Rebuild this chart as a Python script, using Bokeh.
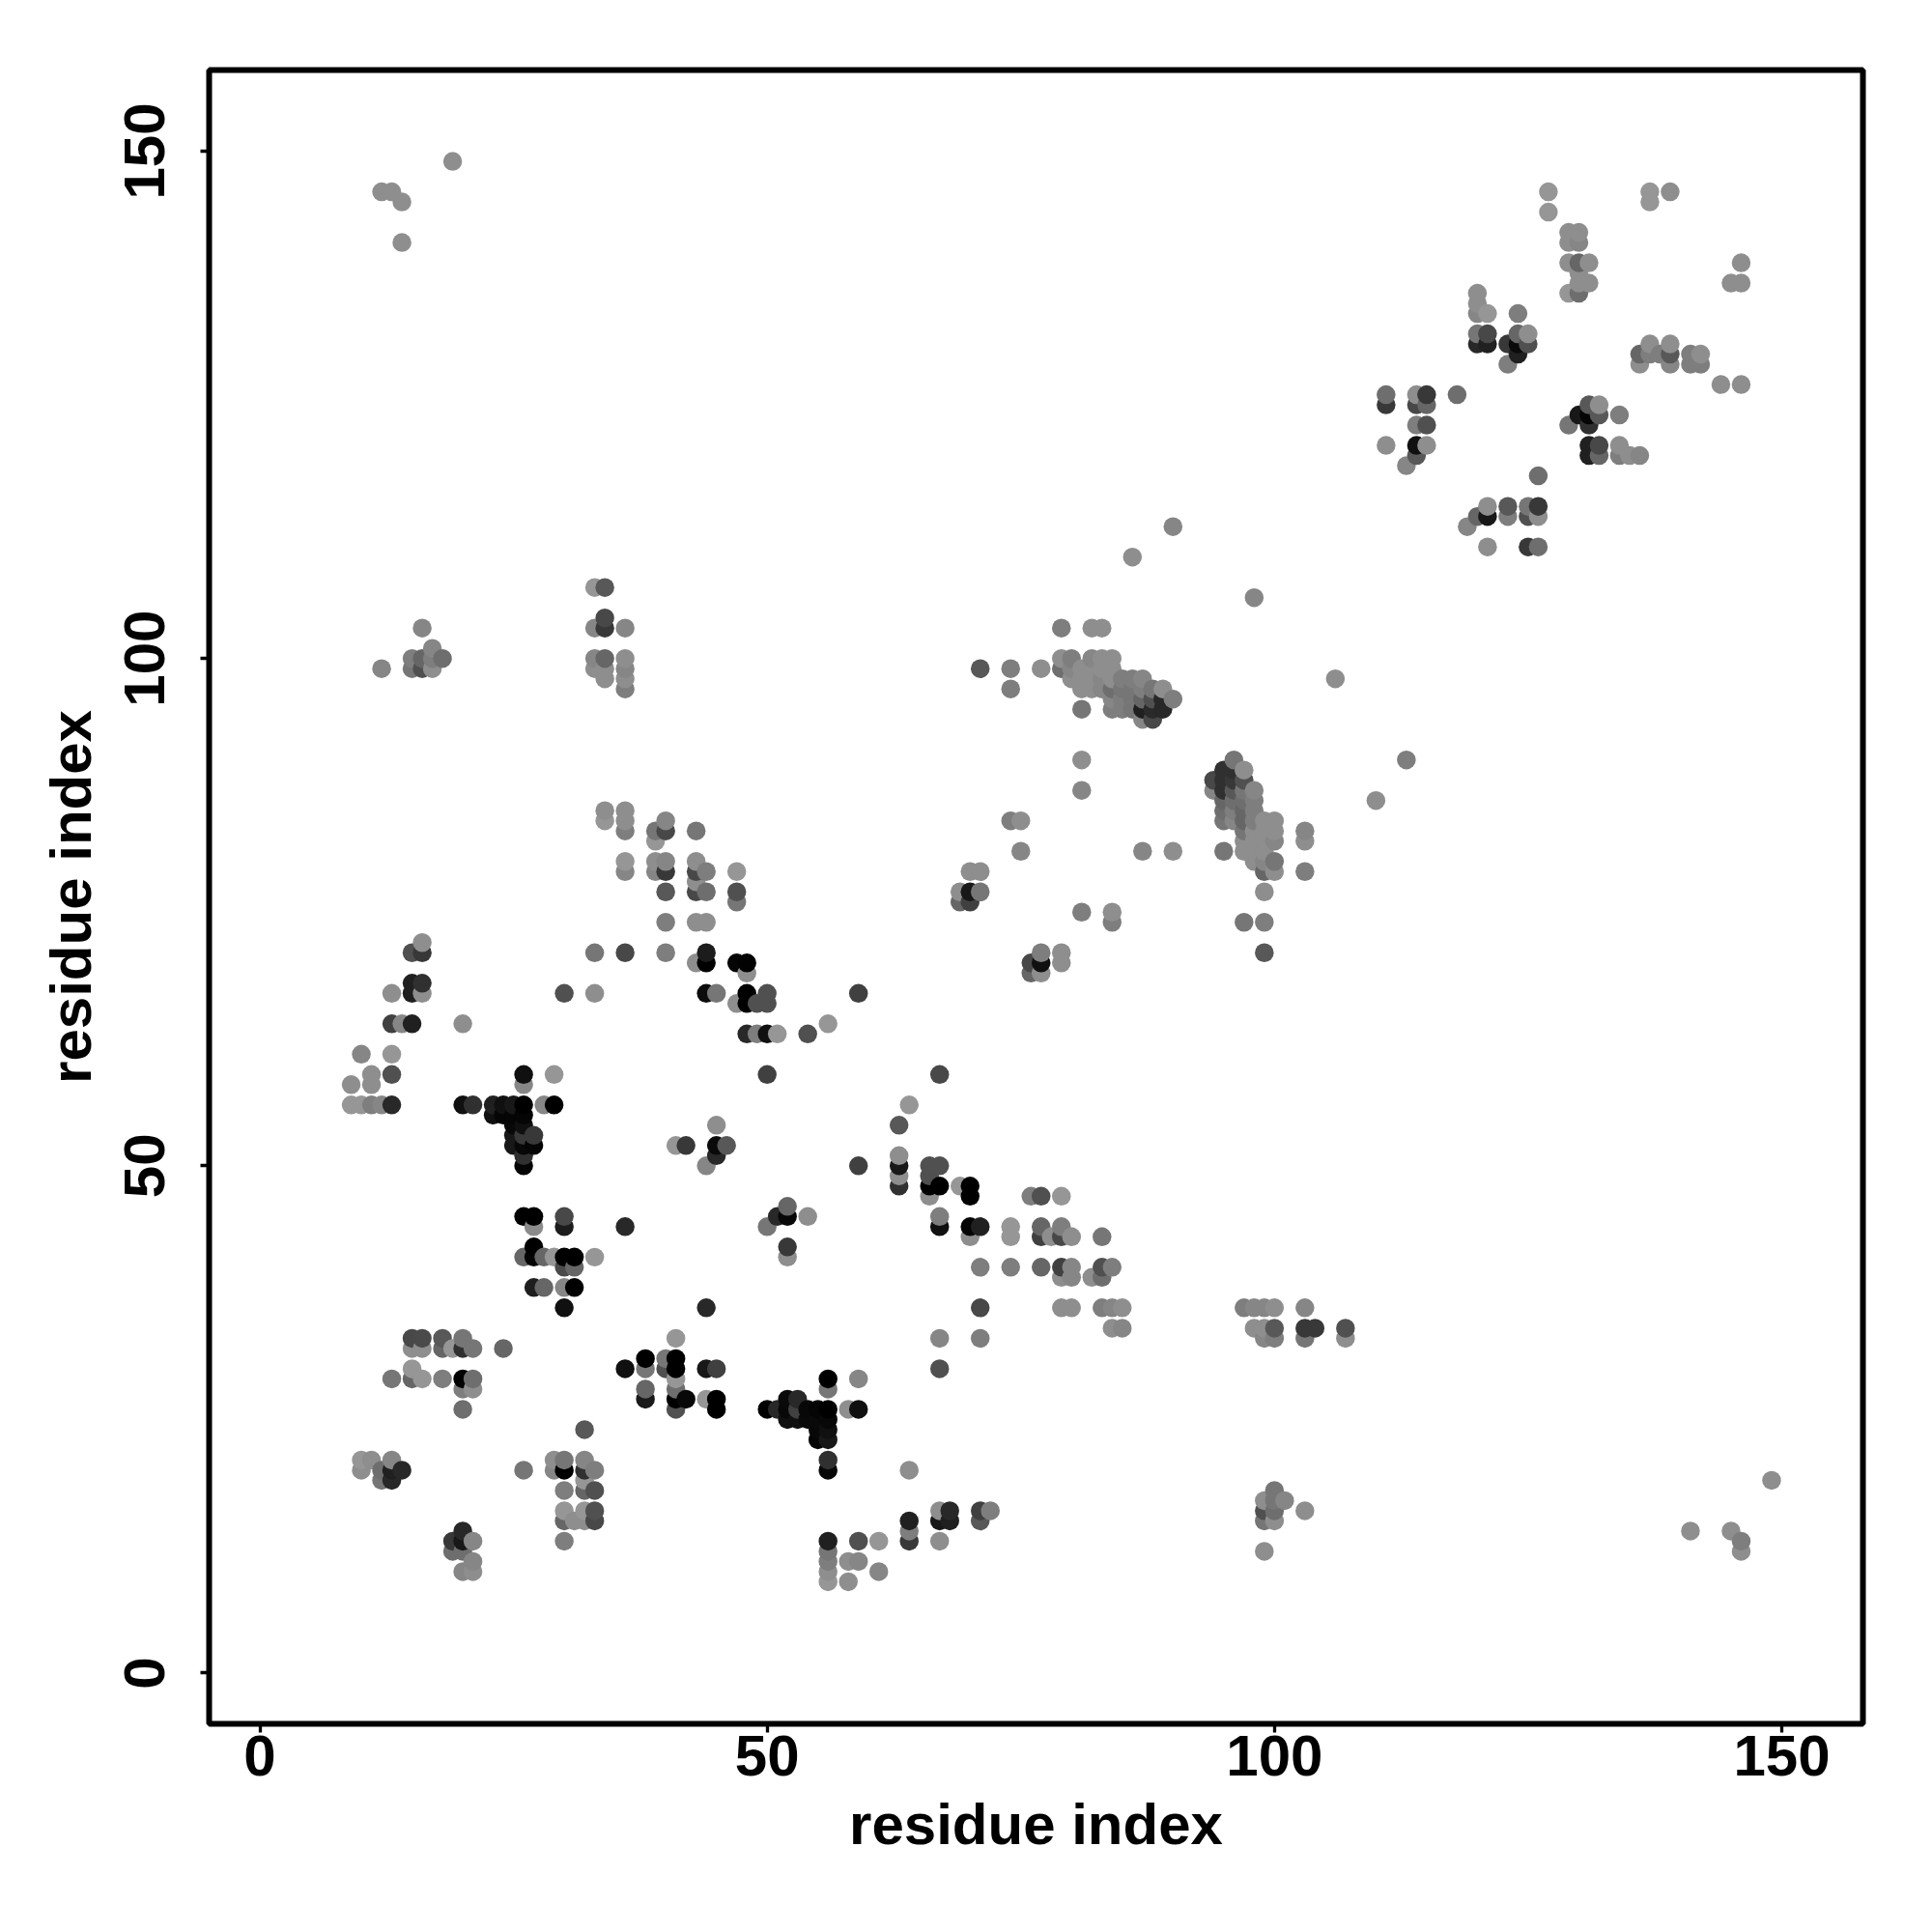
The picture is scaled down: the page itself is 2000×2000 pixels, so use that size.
import numpy as np
from bokeh.embed import file_html
from bokeh.models import ColumnDataSource, FixedTicker, Range1d
from bokeh.plotting import figure
from bokeh.resources import INLINE

tick_values = [0, 50, 100, 150]
x_title = "residue index"
y_title = "residue index"

row_y = [149, 146, 145, 144, 142, 141, 139, 138, 137, 136, 135, 134, 132, 131, 130, 129, 127, 126, 125, 124,
         123, 121, 120, 119, 118, 115, 114, 113, 111, 110, 107, 106, 104, 103, 101, 100, 99, 98, 97, 96,
         95, 94, 90, 89, 88, 87, 86, 85, 84, 83, 82, 81, 80, 79, 78, 77, 76, 75, 74, 72,
         71, 70, 69, 68, 67, 66, 64, 63, 61, 59, 58, 56, 55, 54, 53, 52, 51, 50, 49, 48,
         47, 46, 45, 44, 43, 42, 41, 40, 39, 38, 36, 34, 33, 32, 31, 30, 29, 28, 27, 26,
         25, 24, 23, 21, 20, 19, 18, 17, 16, 15, 14, 13, 12, 11, 10, 9]

row_x = [
    [19], [12, 13, 127, 137, 139], [14, 137], [127], [129, 130], [14, 129, 130], [129, 130, 131, 146], [130],
    [130, 131, 145, 146], [120, 129, 130], [120], [120, 121, 124], [120, 121, 124, 125],
    [120, 121, 123, 124, 125, 137, 139], [124, 136, 137, 138, 139, 141, 142], [123, 136, 139, 141, 142],
    [144, 146], [111, 114, 115, 118], [111, 114, 115, 131, 132], [130, 131, 132, 134], [114, 115, 129, 131],
    [111, 114, 115, 131, 132, 134], [114, 131, 132, 134, 135, 136], [113], [126], [121, 123, 125, 126],
    [120, 121, 123, 125, 126], [119, 90], [121, 125, 126], [86], [33, 34], [98], [34],
    [16, 33, 34, 36, 79, 82, 83], [17], [15, 16, 17, 18, 33, 34, 36, 79, 80, 82, 83, 84],
    [12, 15, 16, 17, 33, 34, 36, 71, 74, 77, 79, 80, 81, 82, 83, 84],
    [34, 36, 80, 81, 82, 83, 84, 85, 86, 87, 106], [36, 74, 81, 82, 83, 84, 85, 86, 87, 88, 89],
    [84, 85, 86, 87, 88, 89, 90], [81, 84, 85, 86, 87, 88, 89], [87, 88], [81, 96, 113], [95, 96, 97],
    [94, 95, 96, 97], [81, 94, 95, 96, 97, 98], [95, 96, 97, 98, 110], [34, 36, 95, 96, 97, 98],
    [34, 36, 40, 74, 75, 95, 96, 97, 98, 99, 100], [36, 39, 40, 43, 97, 98, 99, 100, 103],
    [39, 97, 98, 99, 100, 103], [75, 87, 90, 95, 97, 98, 99], [36, 39, 40, 43, 98, 99, 100],
    [36, 39, 40, 43, 44, 47, 70, 71, 99, 100, 103], [43], [40, 43, 44, 47, 69, 70, 71, 99], [47, 69, 70],
    [81, 84], [40, 43, 44, 84, 97, 99], [16], [15, 16, 33, 36, 40, 44, 77, 79, 99],
    [43, 44, 47, 48, 76, 77, 79], [48, 76, 77], [15, 16], [13, 15, 16, 30, 33, 44, 45, 48, 50, 59],
    [47, 48, 49, 50], [13, 14, 15, 20, 56], [48, 49, 50, 51, 54], [10, 13], [11, 13, 26, 29, 50, 67], [9, 11, 26],
    [9, 10, 11, 12, 13, 20, 21, 23, 24, 25, 26, 28, 29, 64], [23, 24, 25, 26], [25, 26, 45, 63], [25, 26, 27],
    [25, 26, 27, 41, 42, 45, 46], [26, 45, 63], [26, 44, 59, 63, 66, 67], [63, 66], [63, 66, 67, 69, 70],
    [66, 70, 76, 77, 79], [52], [26, 27, 30, 51, 52, 54, 67], [27, 30, 36, 50, 67, 70, 71, 74, 77, 79],
    [70, 74, 77, 78, 79, 80, 83], [27, 52], [26, 27, 28, 29, 30, 31, 33, 52],
    [30, 31, 71, 74, 77, 79, 80, 83, 84], [79, 80, 82, 83], [27, 28, 30, 31],
    [30, 44, 71, 79, 80, 83, 84, 85, 97, 98, 99, 100, 103], [84, 85, 98, 99, 100, 103, 104, 107],
    [15, 16, 18, 20, 41, 67, 71, 99, 100, 103, 107], [15, 16, 18, 19, 20, 21, 24], [38, 40, 41],
    [15, 36, 38, 40, 41, 44, 45, 67], [13, 15, 16, 18, 20, 21, 41, 56, 59], [20, 21, 38, 41, 56],
    [38, 41, 42, 44, 45, 52, 53], [20, 41, 45, 50, 51, 52, 53, 54, 55, 56, 58, 59], [52, 53, 54, 55, 56],
    [32, 55, 56], [55, 56], [10, 11, 13, 29, 30, 32, 56], [10, 12, 13, 14, 26, 29, 30, 32, 33, 56, 64],
    [12, 13, 32, 149], [30, 32, 33, 100], [99, 100, 101], [30, 32, 33, 67, 68, 71, 72, 99, 100, 103],
    [30, 31, 32, 33, 64, 67, 68, 71, 99, 100], [20, 64, 141, 145],
    [19, 20, 21, 30, 56, 59, 61, 64, 67, 146], [19, 20, 56, 99, 146], [21, 56, 58, 59], [20, 21, 56, 61], [56, 58],
]

row_shade = [
    [0x88], [0x88, 0x88, 0x90, 0x90, 0x88], [0x88, 0x90], [0x90], [0x88, 0x88], [0x88, 0x88, 0x80],
    [0x88, 0x60, 0x88, 0x88], [0x88],
    [0x88, 0x88, 0x88, 0x88], [0x88, 0x90, 0x68], [0x88], [0x80, 0x90, 0x78], [0x70, 0x48, 0x60, 0x88],
    [0x28, 0x20, 0x38, 0x0a, 0x50, 0x88, 0x88], [0x20, 0x60, 0x78, 0x78, 0x58, 0x78, 0x88], [0x78, 0x88, 0x80, 0x78, 0x78],
    [0x88, 0x88], [0x68, 0x88, 0x38, 0x68], [0x38, 0x48, 0x60, 0x58, 0x88], [0x18, 0x05, 0x58, 0x78], [0x78, 0x50, 0x70, 0x30],
    [0x88, 0x10, 0x88, 0x20, 0x48, 0x88], [0x58, 0x20, 0x60, 0x78, 0x88, 0x80], [0x80], [0x68], [0x88, 0x58, 0x70, 0x38],
    [0x60, 0x18, 0x78, 0x50, 0x88], [0x80, 0x80], [0x88, 0x38, 0x68], [0x88], [0x90, 0x58], [0x80], [0x48],
    [0x80, 0x80, 0x38, 0x80, 0x78, 0x88, 0x88], [0x80], [0x78, 0x60, 0x78, 0x68, 0x80, 0x60, 0x88, 0x88, 0x78, 0x80, 0x88, 0x88],
    [0x80, 0x70, 0x50, 0x88, 0x88, 0x88, 0x80, 0x58, 0x78, 0x88, 0x68, 0x80, 0x88, 0x88, 0x88, 0x88],
    [0x88, 0x88, 0x88, 0x88, 0x88, 0x80, 0x88, 0x78, 0x78, 0x80, 0x88], [0x78, 0x78, 0x88, 0x88, 0x80, 0x68, 0x70, 0x70, 0x78, 0x70, 0x88],
    [0x80, 0x78, 0x70, 0x60, 0x50, 0x28, 0x78], [0x70, 0x78, 0x78, 0x70, 0x20, 0x2a, 0x28], [0x80, 0x48], [0x88, 0x70, 0x78], [0x30, 0x30, 0x88],
    [0x48, 0x30, 0x38, 0x50], [0x80, 0x80, 0x30, 0x58, 0x70, 0x80], [0x60, 0x68, 0x68, 0x78, 0x88], [0x88, 0x88, 0x68, 0x78, 0x60, 0x78],
    [0x90, 0x88, 0x80, 0x78, 0x88, 0x70, 0x80, 0x60, 0x78, 0x88, 0x88], [0x78, 0x70, 0x48, 0x70, 0x70, 0x88, 0x88, 0x88, 0x80],
    [0x90, 0x88, 0x88, 0x88, 0x80, 0x88], [0x80, 0x80, 0x88, 0x70, 0x88, 0x88, 0x88], [0x90, 0x88, 0x80, 0x88, 0x88, 0x80, 0x70],
    [0x80, 0x80, 0x38, 0x48, 0x78, 0x90, 0x88, 0x88, 0x60, 0x88, 0x78], [0x88], [0x58, 0x48, 0x68, 0x50, 0x88, 0x18, 0x70, 0x88], [0x70, 0x60, 0x40],
    [0x78, 0x88], [0x78, 0x88, 0x88, 0x78, 0x70, 0x78], [0x88], [0x50, 0x38, 0x70, 0x48, 0x78, 0x1c, 0x78, 0x88, 0x58],
    [0x88, 0x00, 0x05, 0x02, 0x48, 0x10, 0x88], [0x88, 0x60, 0x88], [0x20, 0x30], [0x88, 0x1e, 0x88, 0x50, 0x88, 0x0c, 0x70, 0x00, 0x50, 0x40],
    [0x88, 0x00, 0x50, 0x50], [0x40, 0x80, 0x20, 0x88, 0x90], [0x28, 0x78, 0x10, 0x90, 0x50], [0x80, 0x90], [0x88, 0x50, 0x10, 0x90, 0x40, 0x48], [0x88, 0x88, 0x80],
    [0x90, 0x90, 0x78, 0x80, 0x28, 0x10, 0x30, 0x20, 0x10, 0x18, 0x00, 0x80, 0x00, 0x90], [0x10, 0x05, 0x05, 0x05], [0x08, 0x10, 0x88, 0x58], [0x18, 0x38, 0x38],
    [0x18, 0x08, 0x05, 0x90, 0x38, 0x0a, 0x58], [0x30, 0x28, 0x88], [0x05, 0x80, 0x40, 0x18, 0x50, 0x50], [0x88, 0x50], [0x30, 0x00, 0x00, 0x90, 0x00],
    [0x88, 0x00, 0x78, 0x50, 0x90], [0x60], [0x00, 0x00, 0x48, 0x28, 0x08, 0x88, 0x78], [0x85, 0x1c, 0x28, 0x70, 0x10, 0x05, 0x20, 0x90, 0x60, 0x78],
    [0x88, 0x90, 0x40, 0x88, 0x48, 0x88, 0x70], [0x00, 0x38], [0x60, 0x05, 0x60, 0x90, 0x00, 0x00, 0x90, 0x88],
    [0x4a, 0x60, 0x78, 0x78, 0x60, 0x40, 0x80, 0x50, 0x78], [0x88, 0x80, 0x88, 0x68], [0x1e, 0x60, 0x80, 0x00],
    [0x10, 0x28, 0x48, 0x88, 0x88, 0x78, 0x80, 0x88, 0x78, 0x80, 0x80, 0x88, 0x80], [0x88, 0x80, 0x88, 0x88, 0x58, 0x38, 0x38, 0x50],
    [0x48, 0x4a, 0x58, 0x70, 0x90, 0x80, 0x78, 0x80, 0x78, 0x70, 0x88], [0x88, 0x88, 0x60, 0x90, 0x30, 0x70, 0x60], [0x00, 0x70, 0x00],
    [0x90, 0x10, 0x70, 0x50, 0x00, 0x18, 0x40, 0x50], [0x70, 0x60, 0x90, 0x78, 0x00, 0x68, 0x90, 0x00, 0x80], [0x78, 0x88, 0x60, 0x68, 0x70],
    [0x1a, 0x00, 0x08, 0x90, 0x00, 0x0a, 0x28], [0x68, 0x50, 0x00, 0x00, 0x28, 0x08, 0x40, 0x08, 0x05, 0x00, 0x88, 0x10], [0x10, 0x10, 0x0a, 0x0a, 0x08],
    [0x58, 0x08, 0x10], [0x05, 0x18], [0x90, 0x88, 0x80, 0x88, 0x70, 0x80, 0x30], [0x88, 0x68, 0x20, 0x28, 0x70, 0x80, 0x00, 0x30, 0x78, 0x08, 0x88],
    [0x70, 0x28, 0x90, 0x88], [0x78, 0x60, 0x50, 0x70], [0x88, 0x70, 0x80], [0x90, 0x90, 0x50, 0x88, 0x28, 0x40, 0x78, 0x50, 0x68, 0x88],
    [0x60, 0x88, 0x88, 0x48, 0x20, 0x18, 0x20, 0x58, 0x70, 0x88], [0x28, 0x78, 0x88, 0x88],
    [0x38, 0x18, 0x80, 0x78, 0x20, 0x50, 0x90, 0x38, 0x88, 0x78], [0x68, 0x68, 0x70, 0x88, 0x88], [0x80, 0x78, 0x88, 0x80], [0x80, 0x88, 0x88, 0x80], [0x90, 0x88],
]

xs = np.concatenate([np.array(r, dtype=float) for r in row_x])
ys = np.concatenate([np.full(len(r), y, dtype=float) for r, y in zip(row_x, row_y)])
gs = np.concatenate([np.array(r, dtype=int) for r in row_shade])
gs = np.where(gs >= 0x60, gs + 6, gs)
order = np.lexsort((ys, xs))
colors = ["#%02x%02x%02x" % (g, g, g) for g in gs[order]]
source = ColumnDataSource(dict(x=xs[order], y=ys[order], color=colors))

p = figure(
    output_backend="svg", toolbar_location=None,
    frame_width=1712, frame_height=1712,
    min_border_left=216, min_border_right=50, min_border_top=72, min_border_bottom=180,
    x_range=Range1d(-5, 158), y_range=Range1d(-5, 158),
    background_fill_color="white", border_fill_color="white",
)
p.grid.visible = False
p.outline_line_color = "black"
p.outline_line_width = 6
p.scatter("x", "y", source=source, size=19.5, color="color", line_color=None, marker="circle")

for axis, title in ((p.xaxis[0], x_title), (p.yaxis[0], y_title)):
    axis.ticker = FixedTicker(ticks=tick_values)
    axis.axis_label = title
    axis.axis_line_color = None
    axis.major_tick_in = 0
    axis.major_tick_out = 9
    axis.major_tick_line_width = 3.3
    axis.major_tick_line_color = "black"
    axis.minor_tick_line_color = None
    axis.major_label_text_font = "Liberation Sans"
    axis.major_label_text_font_style = "bold"
    axis.major_label_text_font_size = "60px"
    axis.major_label_text_color = "black"
    axis.axis_label_text_font = "Liberation Sans"
    axis.axis_label_text_font_style = "bold"
    axis.axis_label_text_font_size = "60px"
    axis.axis_label_text_color = "black"

p.xaxis[0].major_label_standoff = 3
p.xaxis[0].axis_label_standoff = 14
p.yaxis[0].major_label_standoff = 37
p.yaxis[0].major_label_orientation = "vertical"
p.yaxis[0].axis_label_standoff = 20

open("out.html", "w").write(file_html(p, INLINE))
